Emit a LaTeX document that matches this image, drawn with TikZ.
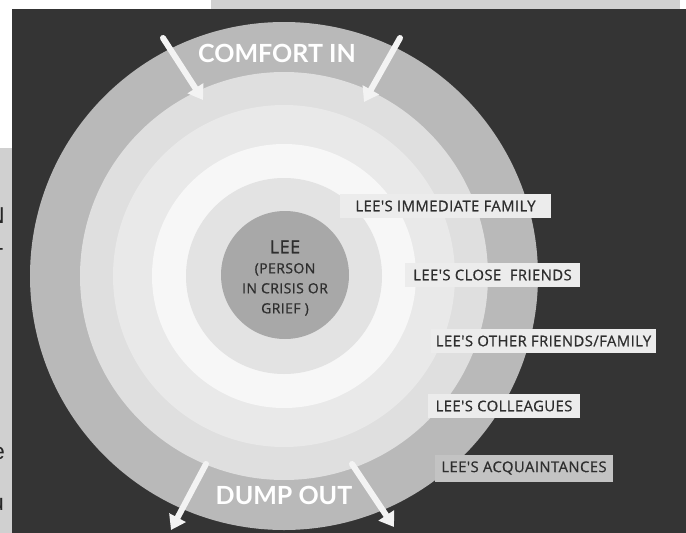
\documentclass[tikz,border=0pt]{standalone}
\usepackage{fontspec}
\setmainfont{Lato}
\newfontfamily\tagfont{Open Sans}[LetterSpace=3, FakeBold=0.8]
\newfontfamily\pagefont{Liberation Sans}
\usetikzlibrary{arrows.meta}

\definecolor{bgdark}{HTML}{343434}
\definecolor{pagegrey}{HTML}{D0D0D0}
\definecolor{ringa}{HTML}{B9B9B9}
\definecolor{ringb}{HTML}{DFDFDF}
\definecolor{ringc}{HTML}{E9E9E9}
\definecolor{ringd}{HTML}{F7F7F7}
\definecolor{ringe}{HTML}{E3E3E3}
\definecolor{leegrey}{HTML}{A8A8A8}
\definecolor{tagfill}{HTML}{ECECEC}
\definecolor{tagdark}{HTML}{C3C3C3}
\definecolor{ink}{HTML}{2E2E2E}
\definecolor{arrowwhite}{HTML}{F3F3F3}

\begin{document}
\begin{tikzpicture}[x=1pt, y=-1pt,
    ring/.style={circle, inner sep=0pt, minimum size=#1},
    tag/.style={fill=tagfill, text=ink, inner sep=0pt, minimum height=24pt,
                font=\tagfont\fontsize{14.8}{15}\selectfont},
    big/.style={text=white, inner sep=0pt, font=\bfseries\fontsize{25}{25}\selectfont},
    frag/.style={anchor=east, inner sep=0pt, text=black!85, font=\pagefont\fontsize{23}{23}\selectfont},
    push/.style={arrowwhite, line width=6pt, line cap=round, -{Triangle[width=18pt,length=14pt]}}]
          \useasboundingbox (0,0) rectangle (686,533);

          % page behind the picture
          \fill[white] (0,0) rectangle (686,533);
          \fill[pagegrey] (211,0) rectangle (680,9);
          \fill[bgdark] (12,9) rectangle (686,533);
          \fill[pagegrey] (0,148) rectangle (12,533);
          \begin{scope}
            \clip (0,148) rectangle (12,533);
            \node[frag] (f1) at (5,216) {N};
            \node[frag] (f2) at (4,252) {-};
            \node[frag] (f3) at (2,312) {.};
            \node[frag] (f4) at (5,453) {e};
            \node[frag] (f5) at (4,505) {u};
          \end{scope}

          % rings, outside in
          \node[ring=508pt, fill=ringa] (r1) at (284,276) {};
          \node[ring=408pt, fill=ringb] (r2) at (284,276) {};
          \node[ring=342pt, fill=ringc] (r3) at (284,276) {};
          \node[ring=264pt, fill=ringd] (r4) at (284,276) {};
          \node[ring=196pt, fill=ringe] (r5) at (284,276) {};
          \node[ring=128pt, fill=leegrey] (r6) at (285,275) {};

          \node[text=ink, align=center, font=\tagfont\fontsize{14}{20}\selectfont] (lee) at (285,278)
            {{\fontsize{18}{20}\selectfont LEE}\\(PERSON\\IN CRISIS OR\\GRIEF )};

          % circle labels
          \node[tag, minimum width=211pt] (l1) at (445.5,206) {LEE'S IMMEDIATE FAMILY};
          \node[tag, minimum width=175pt] (l2) at (492.5,275) {LEE'S CLOSE\ \ FRIENDS};
          \node[tag, minimum width=225pt] (l3) at (543.5,341) {LEE'S OTHER FRIENDS/FAMILY};
          \node[tag, minimum width=152pt] (l4) at (504,406) {LEE'S COLLEAGUES};
          \node[tag, fill=tagdark, minimum width=178pt, minimum height=27pt] (l5) at (524,468) {LEE'S ACQUAINTANCES};

          \node[big] (cin) at (277,53) {COMFORT IN};
          \node[big] (dout) at (284,495) {DUMP OUT};

          % in and out arrows
          \coordinate (a1) at (163,38);  \coordinate (b1) at (203,100);
          \coordinate (a2) at (400,38);  \coordinate (b2) at (364,102);
          \coordinate (a3) at (206,464); \coordinate (b3) at (171,530);
          \coordinate (a4) at (352,464); \coordinate (b4) at (394,527);
          \draw[push] (a1) -- (b1);
          \draw[push] (a2) -- (b2);
          \draw[push] (a3) -- (b3);
          \draw[push] (a4) -- (b4);
        \end{tikzpicture}
\end{document}
